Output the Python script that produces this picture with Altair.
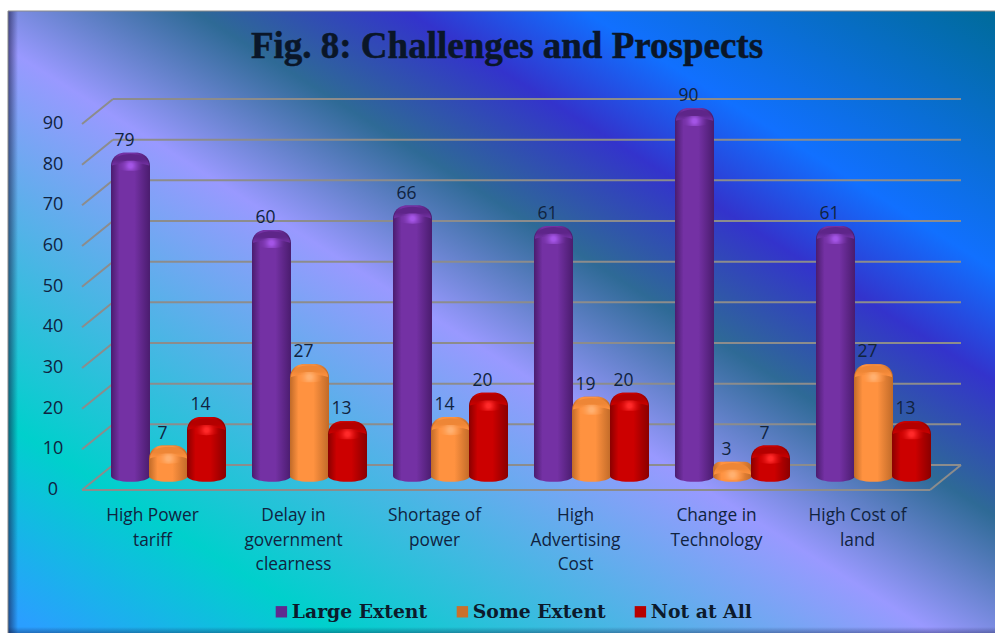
import altair as alt
import pandas as pd

categories = [
    "High Power\ntariff",
    "Delay in\ngovernment\nclearness",
    "Shortage of\npower",
    "High\nAdvertising\nCost",
    "Change in\nTechnology",
    "High Cost of\nland",
]
series_names = ["Large Extent", "Some Extent", "Not at All"]
large_extent = [79, 60, 66, 61, 90, 61]
some_extent = [7, 27, 14, 19, 3, 27]
not_at_all = [14, 13, 20, 20, 7, 13]
ticks = [0, 10, 20, 30, 40, 50, 60, 70, 80, 90]

legend_colors = ["#5f2a8f", "#c9702c", "#b80000"]
edge_colors = ["#4a1c6e", "#c06a28", "#8a0000"]
mid_colors = ["#7431a4", "#ff9240", "#cc0000"]
mid_clear = ["rgba(116,49,164,0)", "rgba(255,146,64,0)", "rgba(204,0,0,0)"]
glow_colors = ["#a455e6", "#ffb070", "#ff2a2a"]
cap_colors = ["#5e2589", "#ee8636", "#b40000"]

TEXT = "#10233f"
GRID = "#8c8c8c"
BODY_FONT = "Open Sans"

rows = []
for values, name in zip((large_extent, some_extent, not_at_all), series_names):
    for cat, val in zip(categories, values):
        rows.append({"cat": cat, "series": name, "value": val})
df = pd.DataFrame(rows)
tick_df = pd.DataFrame({"tick": ticks})
cat_df = pd.DataFrame({"cat": categories})
one = pd.DataFrame({"k": [0]})

x_enc = alt.X("cat:N", axis=None,
              scale=alt.Scale(domain=categories, range=[98, 944], paddingInner=0, paddingOuter=0))
y_scale = alt.Scale(domain=[0, 90], range=[474, 108], nice=False, zero=False)
y_enc = alt.Y("value:Q", axis=None, scale=y_scale)
y_tick = alt.Y("tick:Q", axis=None, scale=y_scale)
off_enc = alt.XOffset("series:N",
                      scale=alt.Scale(domain=series_names, paddingInner=0, paddingOuter=0.355))


def panel_gradient(stops, x1=0, y1=0, x2=1, y2=0):
    return alt.LinearGradient(
        gradient="linear", x1=x1, y1=y1, x2=x2, y2=y2,
        stops=[alt.GradientStop(color=c, offset=o) for o, c in stops],
    )


# Slide backdrop: diagonal multi-stop wash with soft edges
backdrop = alt.Chart(one).mark_rect(
    fill=panel_gradient(
        [(0.0, "#2a9cff"), (0.017, "#2a9fff"), (0.167, "#00d0cc"), (0.469, "#9999ff"),
         (0.594, "#2e6a96"), (0.702, "#3333cc"), (0.792, "#1170ff"), (1.0, "#006b9a")],
        x1=0, y1=1, x2=1, y2=0),
).encode(x=alt.value(8), x2=alt.value(995), y=alt.value(11), y2=alt.value(633))

left_shade = alt.Chart(one).mark_rect(
    fill=panel_gradient([(0, "rgba(20,20,60,0.6)"), (1, "rgba(20,20,60,0)")]),
).encode(x=alt.value(8), x2=alt.value(18), y=alt.value(11), y2=alt.value(633))

bottom_shade = alt.Chart(one).mark_rect(
    fill=panel_gradient([(0, "rgba(20,20,60,0)"), (1, "rgba(20,20,60,0.35)")], x1=0, y1=0, x2=0, y2=1),
).encode(x=alt.value(8), x2=alt.value(995), y=alt.value(627), y2=alt.value(633))

top_edge = alt.Chart(one).mark_rule(color="#8a8a8a", strokeWidth=1).encode(
    x=alt.value(8), x2=alt.value(995), y=alt.value(11))
left_edge = alt.Chart(one).mark_rule(color="#8a8a8a", strokeWidth=1).encode(
    x=alt.value(8), y=alt.value(11), y2=alt.value(633))

# Back wall, side wall and floor of the 3-D frame
back_lines = alt.Chart(tick_df).mark_rule(color=GRID, strokeWidth=2, yOffset=-9).encode(
    x=alt.value(113), x2=alt.value(961), y=y_tick)
side_lines = alt.Chart(tick_df).mark_rule(color=GRID, strokeWidth=2, yOffset=-9, y2Offset=16).encode(
    x=alt.value(113), x2=alt.value(82), y=y_tick, y2=alt.Y2("tick:Q"))
floor_df = tick_df[tick_df.tick == 0]
floor_front = alt.Chart(floor_df).mark_rule(color=GRID, strokeWidth=2, yOffset=16).encode(
    x=alt.value(82), x2=alt.value(930), y=y_tick)
floor_side = alt.Chart(floor_df).mark_rule(color=GRID, strokeWidth=2, yOffset=16, y2Offset=-9).encode(
    x=alt.value(930), x2=alt.value(961), y=y_tick, y2=alt.Y2("tick:Q"))

# Flat base bars carry the colour scale and the legend
legend_base = alt.Chart(df).mark_bar(width=16).encode(
    x=x_enc, xOffset=off_enc, y=y_enc, y2=alt.datum(0),
    color=alt.Color(
        "series:N",
        scale=alt.Scale(domain=series_names, range=legend_colors),
        legend=alt.Legend(
            title=None, orient="none", legendX=272, legendY=602, direction="horizontal",
            columns=3, symbolType="square", symbolSize=130, symbolStrokeWidth=0,
            labelFont="DejaVu Serif", labelFontWeight="bold", labelFontSize=18.8,
            labelColor="#0c1a2c", columnPadding=25, labelOffset=1, labelLimit=300,
        ),
    ),
)

ELLIPSE = "M-1,0C-1,-.17 -.55,-.3 0,-.3C.55,-.3 1,-.17 1,0C1,.17 .55,.3 0,.3C-.55,.3 -1,.17 -1,0Z"
DOME = "M-.95,.3C-.95,-.12 -.5,-.3 0,-.3C.5,-.3 .95,-.12 .95,.3C.5,.12 -.5,.12 -.95,.3Z"
BAR_W = 39


def cylinder(i, name):
    data = df[df.series == name]
    body = panel_gradient([(0, edge_colors[i]), (0.22, mid_colors[i]), (0.6, mid_colors[i]), (1, edge_colors[i])])
    base = dict(x=x_enc, xOffset=off_enc)
    shaft = alt.Chart(data).mark_bar(
        width=BAR_W, fill=body, y2Offset=2, cornerRadiusTopLeft=13, cornerRadiusTopRight=13,
    ).encode(y=y_enc, y2=alt.datum(0), **base)
    foot = alt.Chart(data).mark_point(
        shape=ELLIPSE, size=BAR_W ** 2, filled=True, fill=body, strokeWidth=0, opacity=1, yOffset=2,
    ).encode(y=alt.datum(0, scale=y_scale, axis=None), **base)
    crown = alt.Chart(data).mark_point(
        shape=DOME, size=BAR_W ** 2, filled=True, strokeWidth=0, opacity=1, yOffset=7,
        fill=panel_gradient([(0, cap_colors[i]), (0.5, cap_colors[i]), (1, mid_colors[i])], x1=0, y1=0, x2=0, y2=1),
    ).encode(y=y_enc, **base)
    glow = alt.Chart(data).mark_point(
        shape=ELLIPSE, size=34 ** 2, filled=True, strokeWidth=0, opacity=1, yOffset=13,
        fill=alt.RadialGradient(
            gradient="radial", x1=0.5, y1=0.5, r1=0, x2=0.5, y2=0.5, r2=0.5,
            stops=[alt.GradientStop(color=glow_colors[i], offset=0),
                   alt.GradientStop(color=glow_colors[i], offset=0.12),
                   alt.GradientStop(color=mid_clear[i], offset=0.75),
                   alt.GradientStop(color=mid_clear[i], offset=1)],
        ),
    ).encode(y=y_enc, **base)
    return [shaft, foot, crown, glow]


cylinders = []
for i, name in enumerate(series_names):
    cylinders += cylinder(i, name)

value_labels = alt.Chart(df).mark_text(
    font=BODY_FONT, fontSize=17.5, color=TEXT, dx=-6, dy=-12, align="center", baseline="middle",
).encode(x=x_enc, xOffset=off_enc, y=y_enc, text=alt.Text("value:Q"))

tick_labels = alt.Chart(tick_df).mark_text(
    font=BODY_FONT, fontSize=18, color=TEXT, align="center", baseline="middle", dy=16,
).encode(x=alt.value(53), y=y_tick, text=alt.Text("tick:Q"))

category_labels = alt.Chart(cat_df).mark_text(
    font=BODY_FONT, fontSize=17.3, color=TEXT, align="center", baseline="middle",
    lineBreak="\n", lineHeight=24.5, dx=-16,
).encode(x=x_enc, y=alt.value(516), text="cat:N")

title = alt.Chart(one).mark_text(
    text="Fig. 8: Challenges and Prospects", font="Liberation Serif", fontWeight="bold",
    fontSize=37, color="#0a1628", stroke="#0a1628", strokeWidth=0.5,
    align="center", baseline="middle",
).encode(x=alt.value(507), y=alt.value(47))

chart = alt.layer(
    backdrop, left_shade, bottom_shade, top_edge, left_edge,
    back_lines, side_lines, floor_front, floor_side,
    legend_base, *cylinders,
    value_labels, tick_labels, category_labels, title,
).properties(
    width=995, height=633, padding=0, background="white",
    autosize=alt.AutoSizeParams(type="none"),
).configure_view(stroke=None)

chart.save("out.html", embed_options={"renderer": "svg", "actions": False})
